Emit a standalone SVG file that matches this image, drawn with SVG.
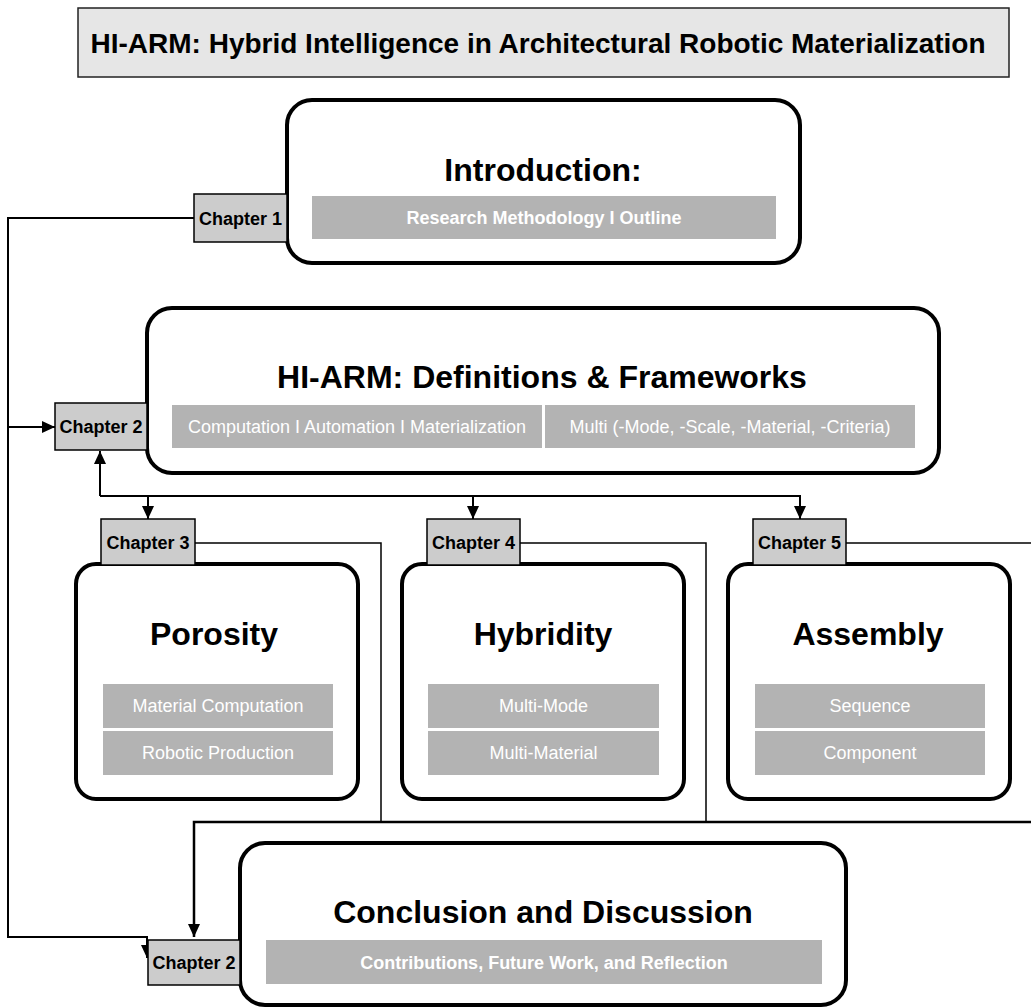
<svg xmlns="http://www.w3.org/2000/svg" width="1031" height="1008" viewBox="0 0 1031 1008">
<defs>
<style>
text{font-family:"Liberation Sans",Arial,Helvetica,sans-serif;}
.big{fill:#fff;stroke:#000;stroke-width:4;}
.bar{fill:#b3b3b3;}
.chap{fill:#ccc;stroke:#000;stroke-width:1.5;}
.chapt{font-size:18px;font-weight:bold;fill:#000;text-anchor:middle;}
.head{font-size:32px;font-weight:bold;fill:#000;text-anchor:middle;}
.sub{font-size:18px;fill:#fff;text-anchor:middle;}
.subb{font-size:18px;font-weight:bold;fill:#fff;text-anchor:middle;}
.ln{fill:none;stroke:#000;stroke-width:2;}
.thin{fill:none;stroke:#000;stroke-width:1.5;}
</style>
<marker id="ah" markerUnits="userSpaceOnUse" markerWidth="14" markerHeight="12" refX="13" refY="6" orient="auto"><path d="M0,0 L13,6 L0,12 z" fill="#000"/></marker>
</defs>
<rect width="1031" height="1008" fill="#fff"/>

<g id="title">
<rect x="78" y="8" width="931" height="69" fill="#e6e6e6" stroke="#222" stroke-width="1.5"/>
<text x="538" y="53" style="font-size:28px;font-weight:bold;text-anchor:middle;fill:#000">HI-ARM: Hybrid Intelligence in Architectural Robotic Materialization</text>
</g>

<g id="connectors">
<path class="ln" d="M194,218 H8 V937 H147 V958" marker-end="url(#ah)"/>
<path class="ln" d="M8,427 H55" marker-end="url(#ah)"/>
<path class="ln" d="M100,496 V451" marker-end="url(#ah)"/>
<path class="ln" d="M100,496 H800 V519" marker-end="url(#ah)"/>
<path class="ln" d="M148,496 V519" marker-end="url(#ah)"/>
<path class="ln" d="M473,496 V519" marker-end="url(#ah)"/>
<path class="thin" d="M195,543 H381 V822"/>
<path class="thin" d="M520,543 H706 V822"/>
<path class="thin" d="M846,543 H1040"/>
<path class="ln" d="M1040,822 H194 V937" marker-end="url(#ah)" style="stroke-width:2.5"/>
</g>

<g id="intro">
<rect class="big" x="287" y="100" width="513" height="163" rx="25"/>
<text class="head" x="543" y="181">Introduction:</text>
<rect class="bar" x="312" y="196" width="464" height="43"/>
<text class="subb" x="544" y="223.5">Research Methodology I Outline</text>
</g>
<g id="chapter1">
<rect class="chap" x="194" y="194" width="93" height="48"/>
<text class="chapt" x="240.5" y="224.5">Chapter 1</text>
</g>

<g id="definitions">
<rect class="big" x="147" y="308" width="792" height="165" rx="25"/>
<text class="head" x="542" y="388">HI-ARM: Definitions &amp; Frameworks</text>
<rect class="bar" x="172" y="405" width="370" height="43"/>
<rect class="bar" x="545" y="405" width="370" height="43"/>
<text class="sub" x="357" y="433">Computation I Automation I Materialization</text>
<text class="sub" x="730" y="433">Multi (-Mode, -Scale, -Material, -Criteria)</text>
</g>
<g id="chapter2">
<rect class="chap" x="55" y="403" width="92" height="47"/>
<text class="chapt" x="101" y="433">Chapter 2</text>
</g>

<g id="porosity">
<rect class="big" x="76" y="564" width="282" height="235" rx="20"/>
<text class="head" x="214" y="645">Porosity</text>
<rect class="bar" x="103" y="684" width="230" height="44"/>
<rect class="bar" x="103" y="731" width="230" height="44"/>
<text class="sub" x="218" y="712">Material Computation</text>
<text class="sub" x="218" y="759">Robotic Production</text>
</g>
<g id="chapter3">
<rect class="chap" x="101" y="519" width="94" height="46"/>
<text class="chapt" x="148" y="548.5">Chapter 3</text>
</g>

<g id="hybridity">
<rect class="big" x="402" y="564" width="282" height="235" rx="20"/>
<text class="head" x="543" y="645">Hybridity</text>
<rect class="bar" x="428" y="684" width="231" height="44"/>
<rect class="bar" x="428" y="731" width="231" height="44"/>
<text class="sub" x="543.5" y="712">Multi-Mode</text>
<text class="sub" x="543.5" y="759">Multi-Material</text>
</g>
<g id="chapter4">
<rect class="chap" x="427" y="519" width="93" height="46"/>
<text class="chapt" x="473.5" y="548.5">Chapter 4</text>
</g>

<g id="assembly">
<rect class="big" x="728" y="564" width="282" height="235" rx="20"/>
<text class="head" x="868" y="645">Assembly</text>
<rect class="bar" x="755" y="684" width="230" height="44"/>
<rect class="bar" x="755" y="731" width="230" height="44"/>
<text class="sub" x="870" y="712">Sequence</text>
<text class="sub" x="870" y="759">Component</text>
</g>
<g id="chapter5">
<rect class="chap" x="753" y="519" width="93" height="46"/>
<text class="chapt" x="799.5" y="548.5">Chapter 5</text>
</g>

<g id="conclusion">
<rect class="big" x="240" y="843" width="606" height="162" rx="25"/>
<text class="head" x="543" y="923">Conclusion and Discussion</text>
<rect class="bar" x="266" y="940" width="556" height="44"/>
<text class="subb" x="544" y="968.5">Contributions, Future Work, and Reflection</text>
</g>
<g id="chapter2b">
<rect class="chap" x="148" y="940" width="92" height="45"/>
<text class="chapt" x="194" y="969">Chapter 2</text>
</g>
</svg>
